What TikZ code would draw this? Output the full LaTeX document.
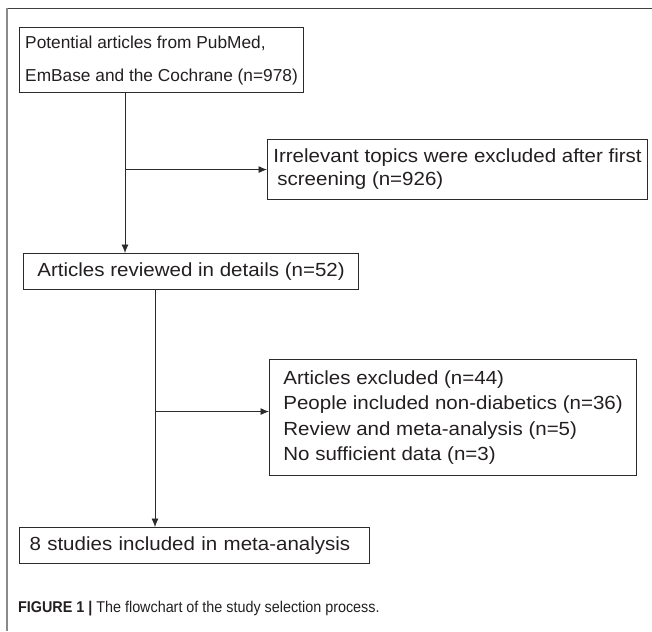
\documentclass[tikz,border=0pt]{standalone}
\usepackage{fontspec}
\setmainfont{Liberation Sans}
\newfontfamily\boxfont[FakeStretch=1.08]{Liberation Sans}
\newfontfamily\capfont[FakeStretch=0.92]{Liberation Sans}
\usetikzlibrary{positioning,arrows.meta}
\definecolor{inkgray}{HTML}{2B2B2B}
\definecolor{framegray}{HTML}{8A8A8A}
\definecolor{textblack}{HTML}{231F20}

\tikzset{
  flowbox/.style={draw=inkgray, line width=1.1pt, anchor=north west, align=left,
    inner xsep=0pt, inner ysep=0pt, text=textblack,
    font=\boxfont\fontsize{19}{25.3}\selectfont},
  flowarr/.style={draw=inkgray, line width=0.8pt, -{Latex[length=8.5pt,width=7pt]}},
}

\begin{document}
\begin{tikzpicture}[x=1pt,y=-1pt]
\useasboundingbox (0,0) rectangle (652,631);
%frame
\draw[black!75, line width=1.6pt] (6,8.5) -- (652,8.5);
\draw[framegray, line width=1.3pt] (7,8) -- (7,631);
%boxes
\node[flowbox, minimum width=284, minimum height=65, font=\fontsize{17.3}{33}\selectfont] (pot) at (19,27)
  {Potential articles from PubMed,\\EmBase and the Cochrane (n=978)};
\node[flowbox, minimum width=380, minimum height=60, font=\boxfont\fontsize{19}{23}\selectfont] (irr) at (267,139)
  {Irrelevant topics were excluded after first\\\hspace*{4pt}screening (n=926)};
\node[flowbox, minimum width=335, minimum height=36] (rev) at (23,253)
  {Articles reviewed in details (n=52)};
\node[flowbox, minimum width=367, minimum height=116] (exc) at (269,359)
  {Articles excluded (n=44)\\People included non-diabetics (n=36)\\Review and meta-analysis (n=5)\\No sufficient data (n=3)};
\node[flowbox, text width=330, inner xsep=10, minimum height=36] (inc) at (19,527)
  {8 studies included in meta-analysis};
%caption
\node[anchor=base west, inner sep=0pt, text=textblack, font=\capfont\fontsize{15.6}{18}\selectfont] (cap) at (18,612)
  {\textbf{FIGURE 1 |} The flowchart of the study selection process.};
%arrows
\coordinate (a1) at ([xshift=106pt]pot.south west);
\draw[flowarr] (a1) -- (a1 |- rev.north);
\draw[flowarr] (a1 |- irr.west) -- (irr.west);
\coordinate (a2) at ([xshift=132pt]rev.south west);
\coordinate (b2) at ([yshift=6pt]exc.west);
\draw[flowarr] (a2) -- (a2 |- inc.north);
\draw[flowarr] (a2 |- b2) -- (b2);
\end{tikzpicture}
\end{document}
